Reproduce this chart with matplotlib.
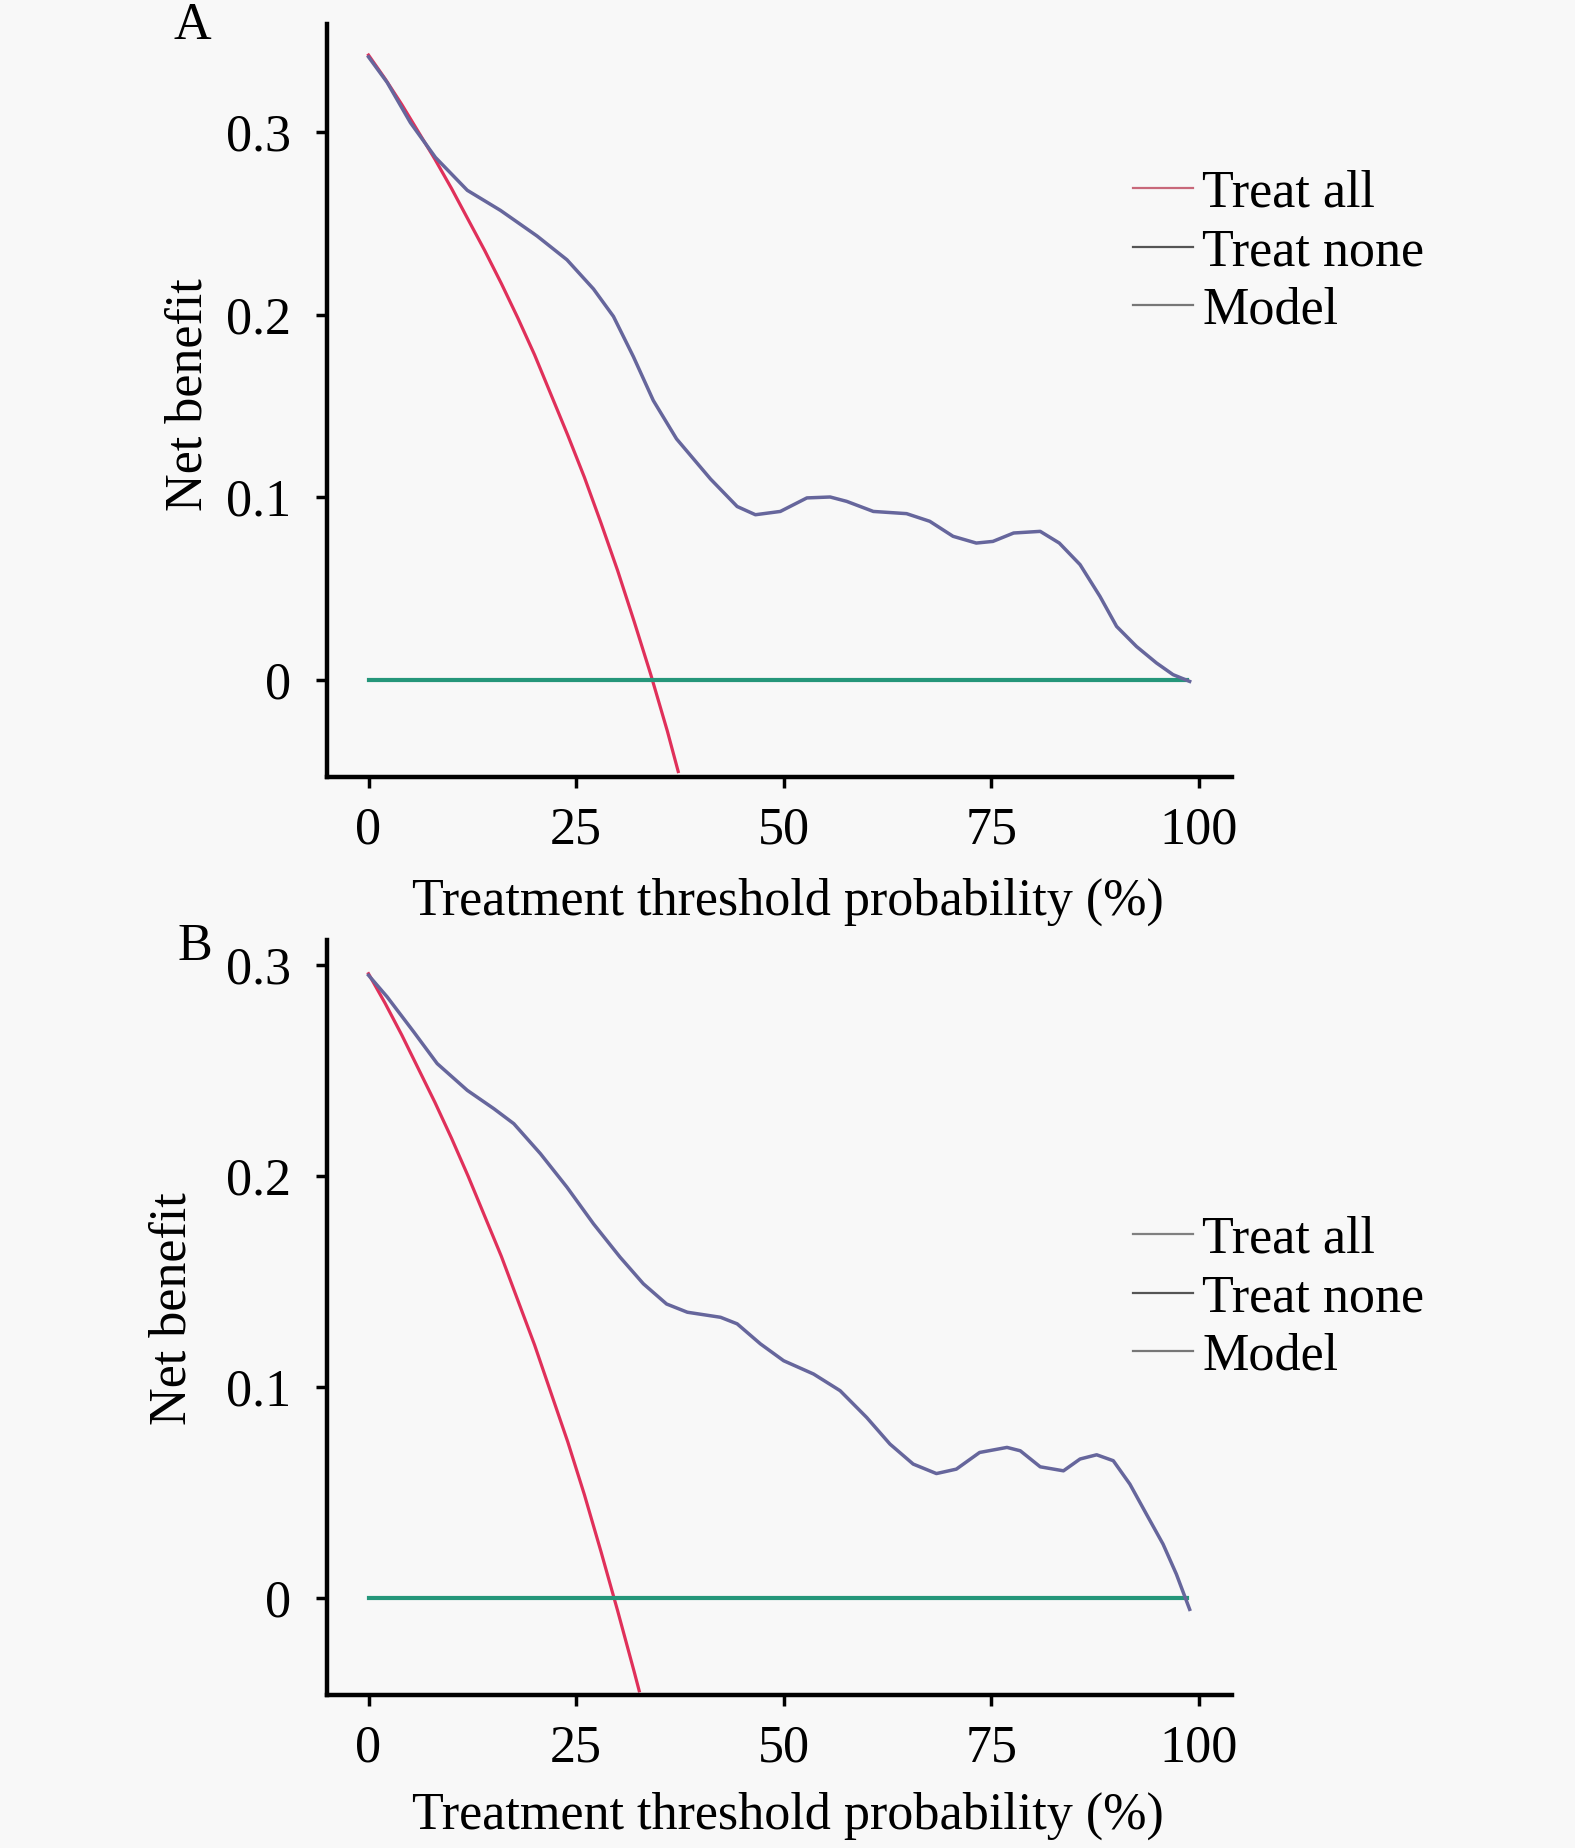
import matplotlib.pyplot as plt
from matplotlib.lines import Line2D

plt.rcParams['font.family'] = ['Liberation Serif', 'DejaVu Serif']

# --- panel A ---
a_model_x = [0, 2.25, 5.05, 8.06, 11.9, 15.9, 20.3, 23.9, 27.1, 29.5, 31.9, 34.3, 37.1,
             41.2, 44.4, 46.6, 49.6, 52.8, 55.6, 57.6, 60.8, 64.8, 67.6, 70.4, 73.2,
             75.2, 77.7, 80.9, 83.2, 85.7, 88.1, 90.1, 92.5, 94.9, 96.9, 98.9]
a_model_y = [0.341, 0.327, 0.305, 0.286, 0.268, 0.257, 0.243, 0.230, 0.214, 0.199, 0.177,
             0.153, 0.132, 0.110, 0.095, 0.0905, 0.0923, 0.0997, 0.1002, 0.0978, 0.0923,
             0.0911, 0.0869, 0.0787, 0.0750, 0.0759, 0.0805, 0.0814, 0.0750, 0.0632,
             0.0458, 0.0294, 0.0184, 0.0094, 0.0030, -0.0007]
a_all_x = [0, 2, 4, 6, 8, 10, 12, 14, 16, 18, 20, 22, 24, 26, 28, 30, 32, 34, 36, 37.3]
a_all_y = [0.342, 0.329, 0.315, 0.300, 0.285, 0.269, 0.252, 0.235, 0.217, 0.198, 0.178,
           0.156, 0.134, 0.111, 0.086, 0.060, 0.032, 0.003, -0.028, -0.050]

# --- panel B ---
b_model_x = [0, 2.25, 5.45, 8.27, 11.9, 15.1, 17.5, 20.7, 23.9, 27.1, 30.3, 33.1, 35.9,
             38.4, 42.4, 44.4, 47.2, 50.0, 53.6, 56.8, 60.0, 62.8, 65.6, 68.4, 70.8,
             73.6, 76.9, 78.5, 80.9, 83.7, 85.7, 87.7, 89.7, 91.7, 93.7, 95.7, 97.3, 98.9]
b_model_y = [0.2953, 0.285, 0.2684, 0.2534, 0.2407, 0.2320, 0.2249, 0.2107, 0.1948,
             0.1774, 0.1616, 0.1490, 0.1394, 0.1355, 0.1331, 0.1300, 0.1205, 0.1125,
             0.1062, 0.0983, 0.0856, 0.0730, 0.0635, 0.0590, 0.0611, 0.0690, 0.0714,
             0.0698, 0.0622, 0.0603, 0.0659, 0.0679, 0.0651, 0.0540, 0.0397, 0.0255,
             0.0113, -0.0054]
b_all_x = [0, 2, 4, 6, 8, 10, 12, 14, 16, 18, 20, 22, 24, 26, 28, 30, 32, 32.6]
b_all_y = [0.296, 0.282, 0.267, 0.251, 0.235, 0.218, 0.200, 0.181, 0.162, 0.141, 0.120,
           0.097, 0.074, 0.049, 0.022, -0.006, -0.035, -0.044]

none_x = [0, 98.6]
none_y = [0, 0]

x_ticks = [0, 25, 50, 75, 100]
y_ticks = [0, 0.1, 0.2, 0.3]
y_tick_labels = ['0', '0.1', '0.2', '0.3']
labels = ['Treat all', 'Treat none', 'Model']

bg = '#f8f8f8'
red = '#e0305a'
green = '#25967a'
blue = '#66669c'
W, H = 1575, 1848
fs = 37.5

fig = plt.figure(figsize=(W / 100, H / 100), dpi=100, facecolor=bg)


def panel(rect, mx, my, ax_x, ay, ylim, legend_y, handle_cols):
    ax = fig.add_axes(rect, facecolor=bg)
    ax.plot(ax_x, ay, color=red, lw=2.3, solid_joinstyle='round')
    ax.plot(none_x, none_y, color=green, lw=3.0)
    ax.plot(mx, my, color=blue, lw=2.5, solid_joinstyle='round')
    ax.set_xlim(-5, 104)
    ax.set_ylim(*ylim)
    ax.set_xticks(x_ticks)
    ax.set_xticklabels([str(t) for t in x_ticks])
    ax.set_yticks(y_ticks)
    ax.set_yticklabels(y_tick_labels)
    for s in ['top', 'right']:
        ax.spines[s].set_visible(False)
    for s in ['left', 'bottom']:
        ax.spines[s].set_linewidth(3.2)
    ax.tick_params(axis='both', length=8, width=2.5, labelsize=fs)
    ax.tick_params(axis='x', pad=13)
    ax.tick_params(axis='y', pad=18)
    handles = [Line2D([], [], color=c, lw=1.6) for c in handle_cols]
    ax.legend(handles, labels, loc='center left', frameon=False, fontsize=fs,
              bbox_to_anchor=(1133 / W, 1 - legend_y / H), bbox_transform=fig.transFigure,
              borderaxespad=0, borderpad=0, handlelength=1.15, handletextpad=0.18,
              labelspacing=0.2)
    return ax


panel([327 / W, 1 - 777 / H, 905 / W, 753 / H], a_model_x, a_model_y, a_all_x, a_all_y,
      (-0.053, 0.359), 252, ['#c8687a', '#555555', '#777777'])
panel([327 / W, 1 - 1695 / H, 905 / W, 755 / H], b_model_x, b_model_y, b_all_x, b_all_y,
      (-0.046, 0.312), 1298, ['#808080', '#555555', '#777777'])

fig.text(192 / W, 1 - 26 / H, 'A', fontsize=fs, ha='center', va='center')
fig.text(195 / W, 1 - 947 / H, 'B', fontsize=fs, ha='center', va='center')
fig.text(189 / W, 1 - 395 / H, 'Net benefit', fontsize=fs, rotation=90, ha='center', va='center')
fig.text(173 / W, 1 - 1309 / H, 'Net benefit', fontsize=fs, rotation=90, ha='center', va='center')
fig.text(788 / W, 1 - 902 / H, 'Treatment threshold probability (%)', fontsize=fs,
         ha='center', va='center')
fig.text(788 / W, 1 - 1816 / H, 'Treatment threshold probability (%)', fontsize=fs,
         ha='center', va='center')

fig.savefig('out.png', dpi=100, facecolor=bg)
